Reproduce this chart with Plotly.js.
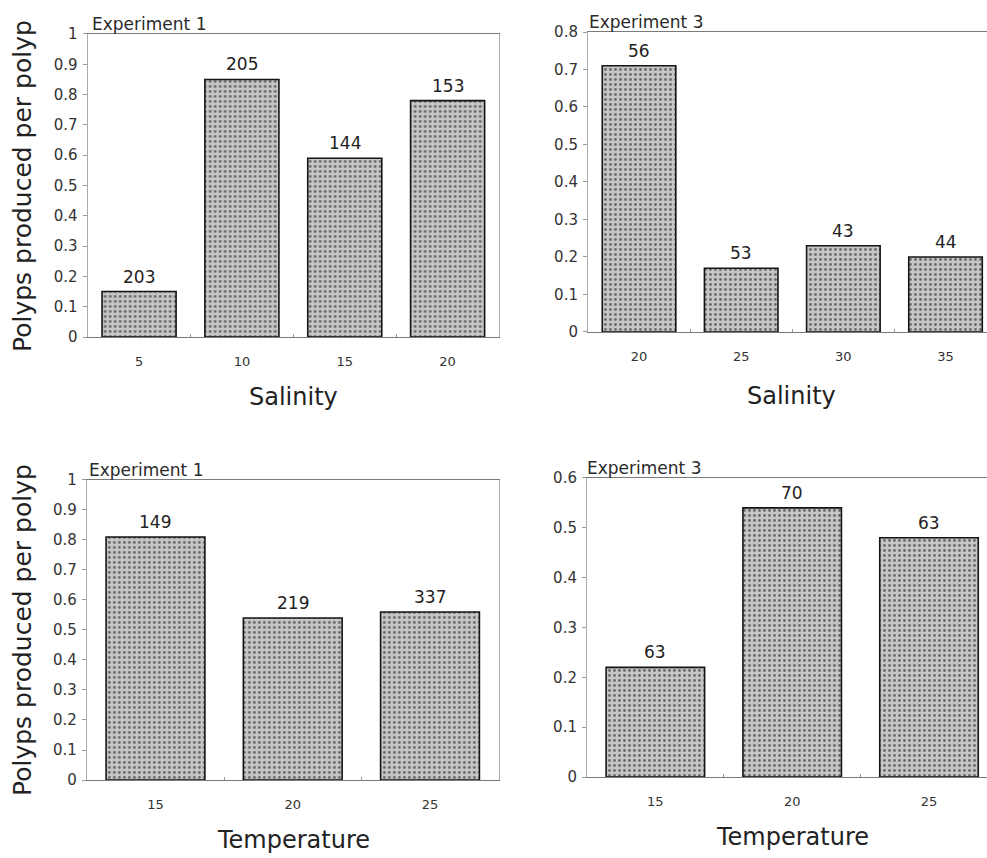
<!DOCTYPE html>
<html>
<head>
<meta charset="utf-8">
<script src="https://cdn.plot.ly/plotly-3.0.1.min.js"></script>
<style>
  html, body { margin: 0; padding: 0; background: #fff; }
  #chart { width: 987px; height: 858px; }
</style>
</head>
<body>
<div id="chart"></div>
<script>
// Experiment 1 – salinity
const salinity1 = ['5', '10', '15', '20'];
const salinity1Values = [0.15, 0.85, 0.59, 0.78];
const salinity1N = ['203', '205', '144', '153'];

// Experiment 3 – salinity
const salinity3 = ['20', '25', '30', '35'];
const salinity3Values = [0.71, 0.17, 0.23, 0.20];
const salinity3N = ['56', '53', '43', '44'];

// Experiment 1 – temperature
const temperature1 = ['15', '20', '25'];
const temperature1Values = [0.81, 0.54, 0.56];
const temperature1N = ['149', '219', '337'];

// Experiment 3 – temperature
const temperature3 = ['15', '20', '25'];
const temperature3Values = [0.22, 0.54, 0.48];
const temperature3N = ['63', '70', '63'];

const yTitle = 'Polyps produced per polyp';
const FONT = '"DejaVu Sans", "Liberation Sans", Arial, sans-serif';

const panels = [
  { id: '',  cats: salinity1,    vals: salinity1Values,    n: salinity1N,    tag: 'Experiment 1', xlabel: 'Salinity',
    xdom: [0.0888, 0.5056], ydom: [0.6072, 0.9604], xrange: [-0.5, 3.5],   ymax: 1.0, mirrorY: true,  tagShift: 2 },
  { id: '2', cats: salinity3,    vals: salinity3Values,    n: salinity3N,    tag: 'Experiment 3', xlabel: 'Salinity',
    xdom: [0.5957, 1.0],    ydom: [0.6131, 0.9627], xrange: [-0.5, 3.406], ymax: 0.8, mirrorY: false, tagShift: -1 },
  { id: '3', cats: temperature1, vals: temperature1Values, n: temperature1N, tag: 'Experiment 1', xlabel: 'Temperature',
    xdom: [0.0880, 0.5052], ydom: [0.0909, 0.4406], xrange: [-0.5, 2.5],   ymax: 1.0, mirrorY: true,  tagShift: 0 },
  { id: '4', cats: temperature3, vals: temperature3Values, n: temperature3N, tag: 'Experiment 3', xlabel: 'Temperature',
    xdom: [0.5947, 1.0],    ydom: [0.0944, 0.4429], xrange: [-0.5, 2.424], ymax: 0.6, mirrorY: false, tagShift: -2 }
];

const traces = [];
const annotations = [];
const layout = {
  width: 987,
  height: 858,
  margin: { l: 0, r: 0, t: 0, b: 0, pad: 0 },
  paper_bgcolor: '#ffffff',
  plot_bgcolor: '#ffffff',
  showlegend: false,
  bargap: 0.28,
  font: { family: FONT, color: '#2a2a2a' }
};

panels.forEach(p => {
  const xa = 'x' + p.id, ya = 'y' + p.id;
  traces.push({
    type: 'bar',
    x: p.cats,
    y: p.vals,
    xaxis: xa,
    yaxis: ya,
    hoverinfo: 'x+y',
    marker: {
      color: '#c4c4c4',
      line: { color: '#151515', width: 1.6 },
      pattern: { shape: '.', fgcolor: '#6a6a6a', bgcolor: '#c6c6c6', size: 5, solidity: 0.25, fillmode: 'replace' }
    }
  });

  layout['xaxis' + p.id] = {
    domain: p.xdom,
    anchor: ya,
    type: 'category',
    range: p.xrange,
    showgrid: false,
    zeroline: false,
    showline: true,
    linecolor: '#7a7a7a',
    linewidth: 1.2,
    mirror: true,
    ticks: 'inside',
    tickson: 'boundaries',
    ticklen: 3,
    tickcolor: '#999999',
    tickfont: { family: FONT, size: 13, color: '#333333' },
    ticklabelstandoff: 12,
    fixedrange: true
  };
  layout['yaxis' + p.id] = {
    domain: p.ydom,
    anchor: xa,
    range: [0, p.ymax],
    dtick: 0.1,
    tick0: 0,
    showgrid: false,
    zeroline: false,
    showline: true,
    linecolor: '#aaaaaa',
    linewidth: 1,
    mirror: p.mirrorY,
    ticks: 'outside',
    ticklen: 4,
    tickcolor: '#999999',
    tickfont: { family: FONT, size: 15, color: '#333333' },
    ticklabelstandoff: 2,
    fixedrange: true
  };

  // sample sizes above each bar (x given as the category index)
  p.cats.forEach((c, i) => {
    annotations.push({
      xref: xa, yref: ya, x: i, y: p.vals[i],
      text: p.n[i], showarrow: false,
      xanchor: 'center', yanchor: 'bottom', yshift: 3,
      font: { family: FONT, size: 17, color: '#222222' }
    });
  });

  // experiment tag on the top-left corner of the frame
  annotations.push({
    xref: xa + ' domain', yref: ya + ' domain', x: 0, y: 1,
    text: p.tag, showarrow: false,
    xanchor: 'left', yanchor: 'bottom', xshift: p.tagShift, yshift: -2,
    font: { family: FONT, size: 17, color: '#2a2a2a' }
  });
});

// axis titles
const xTitles = [
  { text: 'Salinity',    x: 293 / 987, y: 1 - 397 / 858 },
  { text: 'Salinity',    x: 791 / 987, y: 1 - 396 / 858 },
  { text: 'Temperature', x: 293 / 987, y: 1 - 840 / 858 },
  { text: 'Temperature', x: 792 / 987, y: 1 - 837 / 858 }
];
xTitles.forEach(t => annotations.push({
  xref: 'paper', yref: 'paper', x: t.x, y: t.y, text: t.text, showarrow: false,
  xanchor: 'center', yanchor: 'middle',
  font: { family: FONT, size: 24, color: '#222222' }
}));

[1 - 186 / 858, 1 - 630 / 858].forEach(y => annotations.push({
  xref: 'paper', yref: 'paper', x: 22 / 987, y: y, text: yTitle, showarrow: false,
  textangle: -90, xanchor: 'center', yanchor: 'middle',
  font: { family: FONT, size: 25, color: '#222222' }
}));

layout.annotations = annotations;

Plotly.newPlot('chart', traces, layout, { displayModeBar: false, staticPlot: true });
</script>
</body>
</html>
